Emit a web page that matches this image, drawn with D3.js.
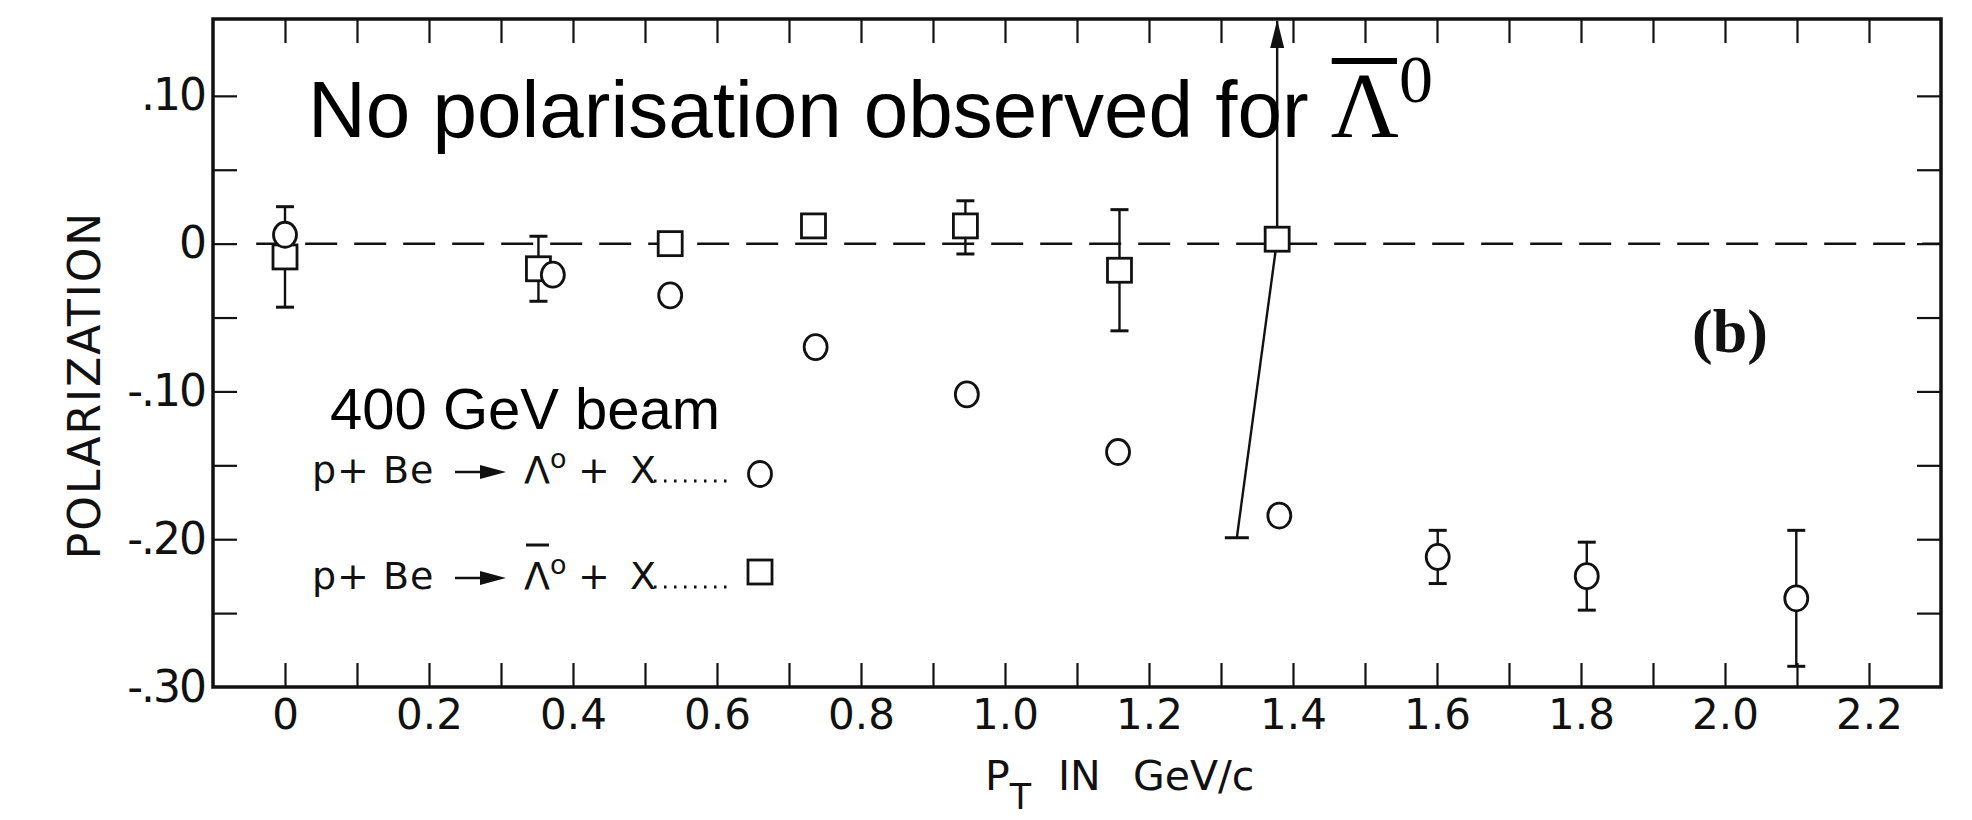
<!DOCTYPE html>
<html>
<head>
<meta charset="utf-8">
<script src="https://cdn.jsdelivr.net/npm/d3@7"></script>
<style>
  body { margin: 0; background: #fff; }
  svg { display: block; }
</style>
</head>
<body>
<svg id="grafico"></svg>
<script>
// dimensões da página
const W = 1972;
const H = 820;
const COR = "#111";

// margens do quadro do gráfico
const margem = { esq: 213, dir: 31, topo: 19, base: 133 };

// --- dados ---

// Lambda0 (círculos)
const pt_lambda  = [0.00, 0.372, 0.535, 0.737, 0.947, 1.157, 1.381, 1.601, 1.808, 2.099];
const pol_lambda = [0.006, -0.021, -0.035, -0.070, -0.102, -0.141, -0.184, -0.212, -0.225, -0.240];
const err_lambda = [0, 0, 0, 0, 0, 0, 0, 0.018, 0.023, 0.046];

// anti-Lambda0 (quadrados)
const pt_antilambda      = [0.00, 0.352, 0.535, 0.734, 0.945, 1.159, 1.378];
const pol_antilambda     = [-0.009, -0.017, 0.000, 0.012, 0.012, -0.018, 0.003];
const err_sup_antilambda = [0.034, 0.022, 0, 0, 0.017, 0.041, null];   // null -> seta para fora da escala
const err_inf_antilambda = [0.034, 0.022, 0, 0, 0.019, 0.041, 0.202];
const pt_inf_antilambda  = [0.00, 0.352, 0.535, 0.734, 0.945, 1.159, 1.322]; // ponta de baixo (a última é inclinada)

// ticks e rótulos
const ticks_x = [0, 0.1, 0.2, 0.3, 0.4, 0.5, 0.6, 0.7, 0.8, 0.9, 1.0, 1.1,
                 1.2, 1.3, 1.4, 1.5, 1.6, 1.7, 1.8, 1.9, 2.0, 2.1, 2.2];
const valores_rotulos_x = [0, 0.2, 0.4, 0.6, 0.8, 1.0, 1.2, 1.4, 1.6, 1.8, 2.0, 2.2];
const rotulos_x = ["0", "0.2", "0.4", "0.6", "0.8", "1.0", "1.2", "1.4", "1.6", "1.8", "2.0", "2.2"];

const ticks_y = [0.10, 0.05, 0, -0.05, -0.10, -0.15, -0.20, -0.25];
const valores_rotulos_y = [0.10, 0, -0.10, -0.20, -0.30];
const rotulos_y = [".10", "0", "-.10", "-.20", "-.30"];

// textos
const titulo = "No polarisation observed for ";
const feixe = "400 GeV beam";
const legenda_reacao = ["p+ Be", "p+ Be"];
const legenda_produto = ["+ X", "+ X"];
const legenda_barra = [false, true];
const legenda_simbolo = ["circulo", "quadrado"];

// --- escalas ---
const x = d3.scaleLinear()
  .domain([-0.1, 2.3])
  .range([margem.esq, W - margem.dir]);

const y = d3.scaleLinear()
  .domain([-0.30, 0.152])
  .range([H - margem.base, margem.topo]);

const $svg = d3.select('#grafico')
  .attr('width', W)
  .attr('height', H);

// seta (marcador)
$svg.append('defs')
  .append('marker')
  .attr('id', 'ponta')
  .attr('viewBox', '0 0 28 16')
  .attr('refX', 27)
  .attr('refY', 8)
  .attr('markerUnits', 'userSpaceOnUse')
  .attr('markerWidth', 28)
  .attr('markerHeight', 16)
  .attr('orient', 'auto')
  .append('path')
  .attr('d', 'M0,1 L28,8 L0,15 Z')
  .attr('fill', COR);

// --- eixos ---
const TICK = 24;
const estilo_eixo = function($g) {
  $g.select('.domain').remove();
  $g.selectAll('.tick line').attr('stroke', COR).attr('stroke-width', 2.2);
  $g.selectAll('.tick text')
    .attr('fill', COR)
    .style('font-family', '"DejaVu Sans", sans-serif');
};

// ticks internos nos 4 lados
$svg.append('g')
  .attr('transform', `translate(0,${y.range()[0]})`)
  .call(d3.axisBottom(x).tickValues(ticks_x).tickSize(-TICK).tickFormat(''))
  .call(estilo_eixo);

$svg.append('g')
  .attr('transform', `translate(0,${y.range()[1]})`)
  .call(d3.axisTop(x).tickValues(ticks_x).tickSize(-TICK).tickFormat(''))
  .call(estilo_eixo);

$svg.append('g')
  .attr('transform', `translate(${x.range()[0]},0)`)
  .call(d3.axisLeft(y).tickValues(ticks_y).tickSize(-TICK).tickFormat(''))
  .call(estilo_eixo);

$svg.append('g')
  .attr('transform', `translate(${x.range()[1]},0)`)
  .call(d3.axisRight(y).tickValues(ticks_y).tickSize(-TICK).tickFormat(''))
  .call(estilo_eixo);

// rótulos
$svg.append('g')
  .attr('transform', `translate(0,${y.range()[0]})`)
  .call(d3.axisBottom(x).tickValues(valores_rotulos_x).tickSize(0).tickPadding(12)
    .tickFormat((d, i) => rotulos_x[i]))
  .call(estilo_eixo)
  .selectAll('.tick text')
  .style('font-size', '42px');

$svg.append('g')
  .attr('transform', `translate(${x.range()[0]},0)`)
  .call(d3.axisLeft(y).tickValues(valores_rotulos_y).tickSize(0).tickPadding(8)
    .tickFormat((d, i) => rotulos_y[i]))
  .call(estilo_eixo)
  .selectAll('.tick text')
  .style('font-size', '44px')
  .style('letter-spacing', '-2px');

// quadro
$svg.append('rect')
  .attr('x', x.range()[0])
  .attr('y', y.range()[1])
  .attr('width', x.range()[1] - x.range()[0])
  .attr('height', y.range()[0] - y.range()[1])
  .attr('fill', 'none')
  .attr('stroke', COR)
  .attr('stroke-width', 3.5);

// títulos dos eixos
$svg.append('text')
  .attr('transform', 'translate(100,385) rotate(-90)')
  .attr('text-anchor', 'middle')
  .style('font-family', '"DejaVu Sans", sans-serif')
  .style('font-size', '44px')
  .style('letter-spacing', '2px')
  .attr('fill', COR)
  .text('POLARIZATION');

const $titulo_x = $svg.append('text')
  .attr('y', 790)
  .style('font-family', '"DejaVu Sans", sans-serif')
  .style('font-size', '41px')
  .attr('fill', COR);
$titulo_x.append('tspan').attr('x', 985).text('P');
$titulo_x.append('tspan').attr('dy', 19).style('font-size', '35px').text('T');
$titulo_x.append('tspan').attr('x', 1058).attr('dy', -19).text('IN');
$titulo_x.append('tspan').attr('x', 1133).text('GeV/c');

// linha tracejada em zero
const linha_zero = { pt_ini: -0.04, pt_fim: 2.3, pol: 0 };
$svg.append('line')
  .attr('x1', x(linha_zero.pt_ini))
  .attr('x2', x(linha_zero.pt_fim))
  .attr('y1', y(linha_zero.pol))
  .attr('y2', y(linha_zero.pol))
  .attr('stroke', COR)
  .attr('stroke-width', 2.5)
  .attr('stroke-dasharray', '32,17');

// --- dados em objetos ---
const dados_lambda = pt_lambda.map((pt, i) => ({
  pt: pt, pol: pol_lambda[i], err: err_lambda[i]
}));

const dados_antilambda = pt_antilambda.map((pt, i) => ({
  pt: pt,
  pol: pol_antilambda[i],
  sup: err_sup_antilambda[i],
  inf: err_inf_antilambda[i],
  pt_inf: pt_inf_antilambda[i]
}));

const R = 12;      // raio círculo
const LADO = 24;   // lado quadrado
const CAP = 9;     // meia largura da barrinha

// barras de erro - lambda
const $erros_l = $svg.append('g').attr('stroke', COR).attr('stroke-width', 2.4);
dados_lambda.filter(d => d.err > 0).forEach(function(d) {
  $erros_l.append('line')
    .attr('x1', x(d.pt)).attr('x2', x(d.pt))
    .attr('y1', y(d.pol + d.err)).attr('y2', y(d.pol - d.err));
  [d.pol + d.err, d.pol - d.err].forEach(v => {
    $erros_l.append('line')
      .attr('x1', x(d.pt) - CAP).attr('x2', x(d.pt) + CAP)
      .attr('y1', y(v)).attr('y2', y(v))
      .attr('stroke-width', 3);
  });
});

// barras de erro - anti lambda
const $erros_a = $svg.append('g').attr('stroke', COR).attr('stroke-width', 2.4);
dados_antilambda.forEach(function(d) {
  if (d.sup === null) {
    // limite superior fora da escala: seta até o topo
    $erros_a.append('line')
      .attr('x1', x(d.pt)).attr('x2', x(d.pt))
      .attr('y1', y(d.pol)).attr('y2', y.range()[1] + 2)
      .attr('marker-end', 'url(#ponta)');
  } else if (d.sup > 0) {
    $erros_a.append('line')
      .attr('x1', x(d.pt)).attr('x2', x(d.pt))
      .attr('y1', y(d.pol)).attr('y2', y(d.pol + d.sup));
    $erros_a.append('line')
      .attr('x1', x(d.pt) - CAP).attr('x2', x(d.pt) + CAP)
      .attr('y1', y(d.pol + d.sup)).attr('y2', y(d.pol + d.sup))
      .attr('stroke-width', 3);
  }
  if (d.inf > 0) {
    const cap = d.pt_inf !== d.pt ? 12 : CAP;
    $erros_a.append('line')
      .attr('x1', x(d.pt)).attr('x2', x(d.pt_inf))
      .attr('y1', y(d.pol)).attr('y2', y(d.pol - d.inf));
    $erros_a.append('line')
      .attr('x1', x(d.pt_inf) - cap).attr('x2', x(d.pt_inf) + cap)
      .attr('y1', y(d.pol - d.inf)).attr('y2', y(d.pol - d.inf))
      .attr('stroke-width', 3);
  }
});

// símbolos
$svg.append('g')
  .selectAll('rect')
  .data(dados_antilambda)
  .enter()
  .append('rect')
  .attr('x', d => x(d.pt) - LADO / 2)
  .attr('y', d => y(d.pol) - LADO / 2)
  .attr('width', LADO)
  .attr('height', LADO)
  .attr('fill', '#fff')
  .attr('stroke', COR)
  .attr('stroke-width', 2.8);

$svg.append('g')
  .selectAll('ellipse')
  .data(dados_lambda)
  .enter()
  .append('ellipse')
  .attr('cx', d => x(d.pt))
  .attr('cy', d => y(d.pol))
  .attr('rx', R - 0.5)
  .attr('ry', R + 0.5)
  .attr('fill', '#fff')
  .attr('stroke', COR)
  .attr('stroke-width', 2.8);

// --- textos grandes ---
const $titulo = $svg.append('text')
  .attr('x', 308)
  .attr('y', 137)
  .style('font-family', '"Liberation Sans", Arial, sans-serif')
  .style('font-size', '80px')
  .attr('fill', '#000')
  .text(titulo);
$titulo.append('tspan')
  .style('font-family', '"Liberation Serif", serif')
  .style('font-size', '94px')
  .text('Λ');
$titulo.append('tspan')
  .style('font-family', '"Liberation Serif", serif')
  .style('font-size', '68px')
  .attr('dy', -35)
  .text('0');

// barra em cima do Lambda
const idx_lambda = titulo.length;
const ext = $titulo.node().getExtentOfChar(idx_lambda);
$svg.append('line')
  .attr('x1', ext.x + 1)
  .attr('x2', ext.x + ext.width - 2)
  .attr('y1', 61)
  .attr('y2', 61)
  .attr('stroke', '#000')
  .attr('stroke-width', 6);

// (b)
$svg.append('text')
  .attr('x', 1692)
  .attr('y', 352)
  .style('font-family', '"Liberation Serif", serif')
  .style('font-size', '62px')
  .style('font-weight', 'bold')
  .attr('fill', COR)
  .text('(b)');

// --- legenda ---
$svg.append('text')
  .attr('x', 330)
  .attr('y', 429)
  .style('font-family', '"Liberation Sans", Arial, sans-serif')
  .style('font-size', '58px')
  .attr('fill', '#000')
  .text(feixe);

const LEG = {
  x_reacao: 312,
  seta: [455, 506],
  x_lambda: 524,
  x_produto: 578,
  pontos: [654, 730],
  x_simb: 760,
  y_base: [483, 589],
  y_simb: [474, 572]
};

legenda_reacao.forEach(function(reacao, i) {
  const yb = LEG.y_base[i];
  const $g = $svg.append('g').attr('fill', COR);
  const fonte = '"DejaVu Sans", sans-serif';

  $g.append('text')
    .attr('x', LEG.x_reacao).attr('y', yb)
    .style('font-family', fonte).style('font-size', '38px')
    .style('letter-spacing', '1px')
    .text(reacao);

  // seta da reação
  const ys = yb - 11;
  $g.append('line')
    .attr('x1', LEG.seta[0]).attr('x2', LEG.seta[1] - 20)
    .attr('y1', ys).attr('y2', ys)
    .attr('stroke', COR).attr('stroke-width', 2.5);
  $g.append('path')
    .attr('d', `M${LEG.seta[1] - 26},${ys - 7} L${LEG.seta[1]},${ys} L${LEG.seta[1] - 26},${ys + 7} Z`);

  const $lam = $g.append('text')
    .attr('x', LEG.x_lambda).attr('y', yb)
    .style('font-family', fonte).style('font-size', '38px');
  $lam.append('tspan').text('Λ');
  $lam.append('tspan').attr('dy', -15).style('font-size', '27px').text('o');

  if (legenda_barra[i]) {
    $g.append('line')
      .attr('x1', LEG.x_lambda + 2).attr('x2', LEG.x_lambda + 25)
      .attr('y1', yb - 44).attr('y2', yb - 44)
      .attr('stroke', COR).attr('stroke-width', 3);
  }

  $g.append('text')
    .attr('x', LEG.x_produto).attr('y', yb)
    .style('font-family', fonte).style('font-size', '38px')
    .style('letter-spacing', '4px')
    .text(legenda_produto[i]);

  $g.append('line')
    .attr('x1', LEG.pontos[0]).attr('x2', LEG.pontos[1])
    .attr('y1', yb - 2).attr('y2', yb - 2)
    .attr('stroke', COR).attr('stroke-width', 3)
    .attr('stroke-dasharray', '2.5,7.5');

  if (legenda_simbolo[i] === 'circulo') {
    $g.append('ellipse')
      .attr('cx', LEG.x_simb).attr('cy', LEG.y_simb[i])
      .attr('rx', R - 0.5).attr('ry', R + 0.5)
      .attr('fill', '#fff').attr('stroke', COR).attr('stroke-width', 2.8);
  } else {
    $g.append('rect')
      .attr('x', LEG.x_simb - LADO / 2).attr('y', LEG.y_simb[i] - LADO / 2)
      .attr('width', LADO).attr('height', LADO)
      .attr('fill', '#fff').attr('stroke', COR).attr('stroke-width', 2.8);
  }
});
</script>
</body>
</html>
